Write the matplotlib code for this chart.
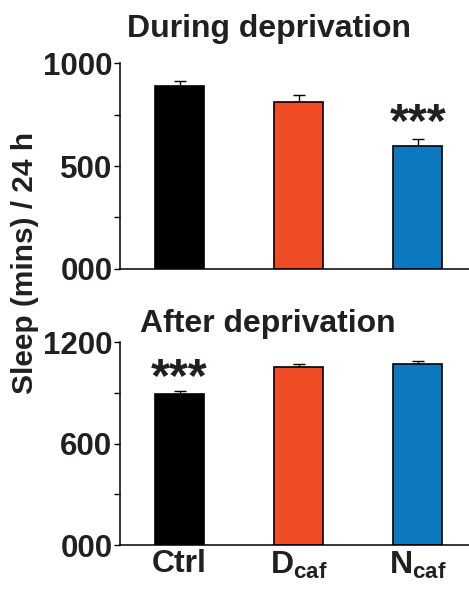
import numpy as np
import matplotlib
matplotlib.use('Agg')
import matplotlib.pyplot as plt

# Data
groups = ['Ctrl', r'$\mathbf{D}_{\mathbf{caf}}$', r'$\mathbf{N}_{\mathbf{caf}}$']
colors = ['#000000', '#EF4B24', '#0B78BF']

during_mean = [890, 811, 595]
during_err = [25, 32, 36]
after_mean = [891, 1055, 1071]
after_err = [20, 18, 19]

during_ticks = [0, 500, 1000]
during_ticklabels = ['000', '500', '1000']
during_minor = [250, 750]
after_ticks = [0, 600, 1200]
after_ticklabels = ['000', '600', '1200']
after_minor = [300, 900]

txt = '#231f20'
plt.rcParams['font.family'] = ['Liberation Sans', 'DejaVu Sans']
plt.rcParams['font.weight'] = 'bold'
plt.rcParams['mathtext.fontset'] = 'custom'
plt.rcParams['mathtext.rm'] = 'Liberation Sans:bold'
plt.rcParams['mathtext.bf'] = 'Liberation Sans:bold'

fig = plt.figure(figsize=(4.69, 5.95), dpi=100)
ax1 = fig.add_axes([0.256, 0.548, 0.744, 0.346])
ax2 = fig.add_axes([0.256, 0.084, 0.744, 0.341])

x = np.arange(len(groups))
fontsize = 22.5


def style_axis(ax, means, errs, ticks, ticklabels, minor, ymax):
    ax.bar(x, means, width=0.41, color=colors, edgecolor='black', linewidth=1.2, zorder=2)
    ax.errorbar(x, means, yerr=[np.zeros(len(errs)), errs], fmt='none',
                ecolor='black', elinewidth=1.0, capsize=4, capthick=1.0, zorder=1)
    ax.set_xlim(-0.5, 2.43)
    ax.set_ylim(0, ymax)
    ax.set_yticks(ticks)
    ax.set_yticklabels(ticklabels, fontsize=fontsize, fontweight='bold', color=txt)
    ax.set_yticks(minor, minor=True)
    ax.tick_params(axis='y', which='major', length=4.5, width=1.0, pad=1)
    ax.tick_params(axis='y', which='minor', length=4.5, width=1.0)
    ax.tick_params(axis='x', length=0)
    ax.spines['top'].set_visible(False)
    ax.spines['right'].set_visible(False)
    ax.spines['left'].set_linewidth(1.1)
    ax.spines['bottom'].set_linewidth(1.1)


style_axis(ax1, during_mean, during_err, during_ticks, during_ticklabels, during_minor, 1000)
ax1.set_xticks([])
ax1.text(2, 705, '***', ha='center', va='center', fontsize=35, fontweight='bold', color=txt)

style_axis(ax2, after_mean, after_err, after_ticks, after_ticklabels, after_minor, 1200)
ax2.set_xticks(x)
ax2.set_xticklabels(groups, fontsize=23, fontweight='bold', color=txt)
ax2.tick_params(axis='x', pad=3)
ax2.text(0, 985, '***', ha='center', va='center', fontsize=35, fontweight='bold', color=txt)

fig.text(0.574, 0.938, 'During deprivation', ha='center', va='baseline',
         fontsize=23, fontweight='bold', color=txt)
fig.text(0.571, 0.442, 'After deprivation', ha='center', va='baseline',
         fontsize=23, fontweight='bold', color=txt)
fig.text(0.053, 0.558, 'Sleep (mins) / 24 h', ha='center', va='center', rotation=90,
         fontsize=21.5, fontweight='bold', color=txt)

fig.savefig('out.png', dpi=100)
